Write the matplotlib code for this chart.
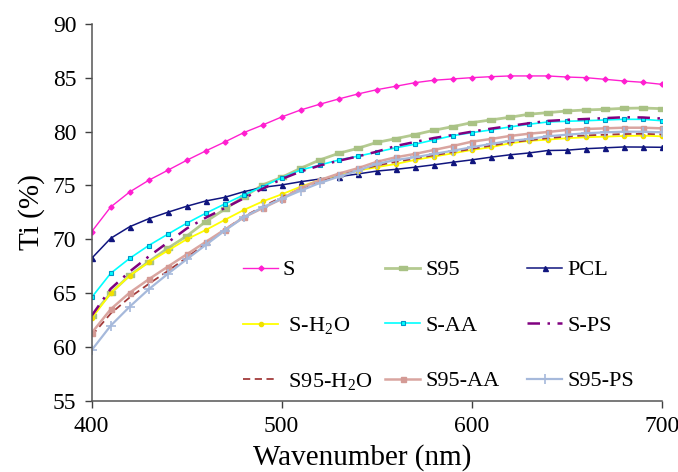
import matplotlib
matplotlib.use("Agg")
import matplotlib.pyplot as plt
from matplotlib.legend import Legend

plt.rcParams["font.family"] = ["Liberation Serif", "DejaVu Serif"]
plt.rcParams["mathtext.fontset"] = "stix"

wavelength = [400, 410, 420, 430, 440, 450, 460, 470, 480, 490, 500,
              510, 520, 530, 540, 550, 560, 570, 580, 590, 600,
              610, 620, 630, 640, 650, 660, 670, 680, 690, 700]

ti_S = [70.71, 73.0, 74.40, 75.48, 76.41, 77.34, 78.21, 79.04,
        79.91, 80.62, 81.37, 82.02, 82.55, 83.04, 83.5, 83.9,
        84.22, 84.55, 84.78, 84.9, 85.02, 85.11, 85.18, 85.18,
        85.18, 85.08, 85.02, 84.87, 84.71, 84.59, 84.4]
ti_S95 = [62.85, 65.0, 66.65, 67.92, 69.16, 70.3, 71.64, 72.79,
          73.95, 75.05, 75.76, 76.6, 77.37, 77.99, 78.45, 79.0,
          79.35, 79.72, 80.13, 80.47, 80.84, 81.09, 81.34, 81.62,
          81.77, 81.92, 82.02, 82.08, 82.17, 82.2, 82.14]
ti_PCL = [68.23, 70.09, 71.17, 71.91, 72.51, 73.07, 73.56, 73.9,
          74.42, 74.83, 75.05, 75.35, 75.6, 75.82, 76.07, 76.34,
          76.5, 76.7, 76.92, 77.16, 77.38, 77.63, 77.85, 78.02,
          78.25, 78.28, 78.42, 78.5, 78.58, 78.57, 78.55]
ti_S_H2O = [62.65, 65.0, 66.62, 67.86, 68.94, 70.0, 70.86, 71.8,
            72.72, 73.52, 74.18, 74.89, 75.51, 75.98, 76.38, 76.7,
            77.0, 77.37, 77.68, 77.99, 78.3, 78.55, 78.92, 79.14,
            79.26, 79.39, 79.48, 79.54, 79.6, 79.63, 79.57]
ti_S_AA = [64.6, 66.84, 68.23, 69.42, 70.47, 71.49, 72.42, 73.28,
           74.12, 74.9, 75.72, 76.44, 76.9, 77.37, 77.72, 78.1,
           78.5, 78.83, 79.23, 79.63, 79.91, 80.16, 80.44, 80.69,
           80.9, 80.97, 81.02, 81.09, 81.15, 81.15, 81.02]
ti_S_PS = [62.9, 65.4, 67.0, 68.4, 69.7, 71.0, 72.0, 72.9,
           73.8, 74.7, 75.6, 76.3, 76.85, 77.3, 77.7, 78.14,
           78.67, 79.04, 79.41, 79.69, 80.0, 80.28, 80.53, 80.78,
           81.0, 81.1, 81.18, 81.26, 81.34, 81.32, 81.22]
ti_S95_H2O = [61.04, 63.1, 64.6, 65.85, 67.05, 68.3, 69.6, 70.9,
              72.1, 73.05, 73.9, 74.7, 75.4, 75.95, 76.4, 76.85,
              77.2, 77.5, 77.8, 78.1, 78.4, 78.7, 79.0, 79.2,
              79.4, 79.55, 79.65, 79.72, 79.78, 79.8, 79.75]
ti_S95_AA = [61.3, 63.5, 65.04, 66.28, 67.45, 68.6, 69.75, 70.9,
             72.04, 72.9, 73.75, 74.75, 75.5, 76.1, 76.6, 77.2,
             77.62, 77.93, 78.3, 78.67, 79.07, 79.32, 79.6, 79.81,
             79.97, 80.16, 80.25, 80.31, 80.37, 80.37, 80.31]
ti_S95_PS = [59.7, 61.97, 63.74, 65.35, 66.78, 68.14, 69.47, 70.8,
             72.04, 72.97, 73.77, 74.52, 75.23, 75.82, 76.38, 77.0,
             77.37, 77.62, 77.93, 78.23, 78.55, 78.86, 79.14, 79.32,
             79.57, 79.72, 79.85, 79.94, 80.0, 80.0, 79.94]

x_ticks = [400, 500, 600, 700]
y_ticks = [55, 60, 65, 70, 75, 80, 85, 90]

rect = [(-1.6, -0.7), (1.6, -0.7), (1.6, 0.7), (-1.6, 0.7), (-1.6, -0.7)]

fig = plt.figure(figsize=(6.78, 4.72), dpi=100)
ax = fig.add_axes([0.1352, 0.151, 0.8408, 0.798])

lines = {}
lines["S"] = ax.plot(wavelength, ti_S, color="#FF1FD0", lw=1.0,
                     marker="D", ms=2.6, mfc="#FF1FD0", mec="#FF1FD0",
                     label="S")[0]
lines["S95"] = ax.plot(wavelength, ti_S95, color="#B4CA90", lw=2.0,
                       marker=rect, ms=6, mfc="#A9C285", mec="#A9C285",
                       label="S95")[0]
lines["PCL"] = ax.plot(wavelength, ti_PCL, color="#10157E", lw=1.1,
                       marker="^", ms=3.6, mfc="#10157E", mec="#10157E",
                       label="PCL")[0]
lines["S-H2O"] = ax.plot(wavelength, ti_S_H2O, color="#FFFF00", lw=1.3,
                         marker="o", ms=3.0, mfc="#F0E000", mec="#F0E000",
                         label=r" S-H$_\mathregular{2}$O")[0]
lines["S-AA"] = ax.plot(wavelength, ti_S_AA, color="#00FFFF", lw=1.2,
                        marker="s", ms=3.4, mfc="#00FFFF", mec="#0096C8",
                        mew=0.8, label="S-AA")[0]
lines["S-PS"] = ax.plot(wavelength, ti_S_PS, color="#800080", lw=1.8,
                        ls=(0, (5, 3, 1, 3)), label="S-PS")[0]
lines["S95-H2O"] = ax.plot(wavelength, ti_S95_H2O, color="#A33B3B", lw=1.3,
                           ls=(0, (4, 2.5)),
                           label=r" S95-H$_\mathregular{2}$O")[0]
lines["S95-AA"] = ax.plot(wavelength, ti_S95_AA, color="#D9A5A0", lw=1.8,
                          marker="s", ms=3.6, mfc="#D49A95", mec="#D49A95",
                          label="S95-AA")[0]
lines["S95-PS"] = ax.plot(wavelength, ti_S95_PS, color="#A6B9DB", lw=1.6,
                          marker="+", ms=7, mew=1.2, label="S95-PS")[0]

ax.set_xlim(400, 700)
ax.set_ylim(55, 90)
ax.set_xticks(x_ticks)
ax.set_yticks(y_ticks)
ax.tick_params(axis="both", direction="out", length=5, width=1.0,
               color="#404040", labelsize=17, pad=6)
for side in ("top", "right"):
    ax.spines[side].set_visible(False)
for side in ("left", "bottom"):
    ax.spines[side].set_color("#555555")
    ax.spines[side].set_linewidth(1.1)

ax.set_xlabel("Wavenumber (nm)", fontsize=21)
ax.xaxis.set_label_coords(0.474, -0.116)
ax.set_ylabel("Ti (%)", fontsize=21, labelpad=6)

# three legend columns laid out at equal spacing
columns = [["S", "S-H2O", "S95-H2O"],
           ["S95", "S-AA", "S95-AA"],
           ["PCL", "S-PS", "S95-PS"]]
col_x = [0.2654, 0.5146, 0.7637]
for keys, cx in zip(columns, col_x):
    leg = Legend(ax, [lines[k] for k in keys],
                 [lines[k].get_label() for k in keys],
                 loc="upper left", bbox_to_anchor=(cx, 0.374),
                 frameon=False, fontsize=16, handlelength=1.58,
                 handletextpad=0.22, labelspacing=1.57,
                 borderpad=0, borderaxespad=0)
    ax.add_artist(leg)

fig.savefig("out.png", dpi=100)
